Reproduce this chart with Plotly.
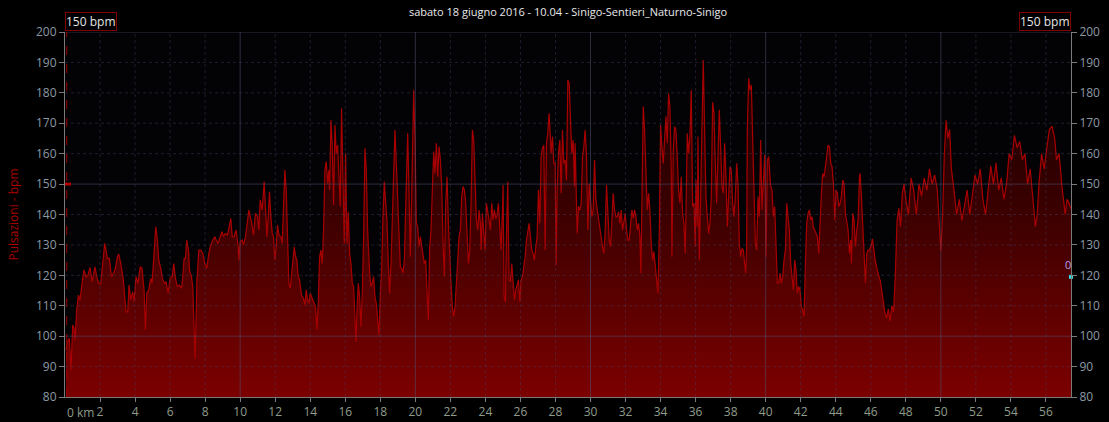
import plotly.graph_objects as go

# distance (km) and heart rate (bpm)
km = [0.057,0.133,0.248,0.343,0.438,0.514,0.571,0.667,0.762,0.857,0.971,1.086,1.200,1.314,1.429,1.543,1.619,1.714,1.810,1.924,
      2.038,2.152,2.267,2.343,2.419,2.533,2.648,2.762,2.876,2.990,3.067,3.181,3.295,3.371,3.486,3.581,3.657,3.752,3.867,3.943,
      4.057,4.171,4.286,4.400,4.514,4.590,4.667,4.781,4.895,4.971,5.086,5.181,5.276,5.352,5.467,5.581,5.695,5.771,5.886,
      6.000,6.114,6.210,6.305,6.419,6.533,6.648,6.724,6.800,6.876,6.952,7.048,7.105,7.219,7.295,7.371,7.429,7.524,7.638,7.752,
      7.867,7.981,8.095,8.210,8.324,8.438,8.552,8.629,8.743,8.857,8.971,9.048,9.162,9.276,9.390,9.467,9.543,9.657,9.771,9.886,
      9.924,10.000,10.114,10.190,10.305,10.419,10.495,10.571,10.648,10.762,10.876,10.990,11.067,11.143,11.257,11.371,
      11.448,11.524,11.600,11.676,11.752,11.829,11.905,11.981,12.057,12.133,12.210,12.324,12.400,12.476,12.552,12.629,12.705,
      12.781,12.857,12.933,13.010,13.086,13.162,13.238,13.314,13.390,13.505,13.619,13.695,13.771,13.848,13.924,14.000,14.076,
      14.152,14.229,14.305,14.381,14.457,14.533,14.610,14.686,14.762,14.838,14.914,14.990,15.067,15.105,15.181,15.257,15.333,
      15.410,15.486,15.562,15.638,15.714,15.790,15.867,15.943,16.019,16.095,16.171,16.248,16.324,16.400,16.476,16.552,16.610,
      16.667,16.743,16.819,16.895,16.971,17.048,17.124,17.200,17.276,17.352,
      17.390,17.467,17.543,17.619,17.695,17.771,17.848,17.924,18.000,18.076,18.152,18.229,18.305,18.381,18.457,18.533,18.610,
      18.686,18.762,18.838,18.914,18.990,19.067,19.143,19.219,19.295,19.371,19.448,19.524,19.562,19.638,19.714,19.790,19.867,
      19.905,19.981,20.057,20.133,20.210,20.286,20.362,20.438,20.514,20.590,20.667,20.743,20.819,20.895,20.971,21.048,21.124,
      21.200,21.276,21.352,21.429,21.505,21.581,21.657,21.733,21.810,21.886,21.962,22.038,22.114,22.190,22.267,22.343,22.419,
      22.495,22.571,22.648,22.724,22.800,22.876,22.952,23.029,23.105,
      23.181,23.257,23.333,23.410,23.486,23.562,23.638,23.714,23.752,23.829,23.905,23.981,24.057,24.133,24.210,24.286,24.362,
      24.438,24.514,24.590,24.667,24.743,24.819,24.895,24.971,25.010,25.067,25.143,25.200,25.276,25.352,25.429,25.505,25.581,
      25.657,25.733,25.810,25.886,25.962,26.038,26.114,26.190,26.267,26.343,26.419,26.495,26.571,26.648,26.724,26.800,26.876,
      26.952,27.029,27.105,27.181,27.257,27.333,27.410,27.486,27.562,27.638,27.676,27.752,27.829,27.905,27.981,28.038,28.095,
      28.171,28.248,28.324,28.400,28.476,28.552,28.629,28.705,28.781,28.857,
      28.933,29.010,29.086,29.124,29.200,29.238,29.314,29.390,29.467,29.543,29.619,29.695,29.771,29.848,29.924,30.000,30.076,
      30.152,30.229,30.305,30.381,30.457,30.533,30.610,30.686,30.762,30.838,30.914,30.990,31.067,31.143,31.219,31.295,31.371,
      31.448,31.524,31.600,31.676,31.752,31.829,31.905,31.981,32.057,32.133,32.210,32.286,32.362,32.438,32.514,32.590,32.667,
      32.743,32.819,32.876,32.933,33.010,33.086,33.162,33.238,33.314,33.390,33.467,33.543,33.619,33.695,33.771,33.848,33.924,
      34.000,34.076,34.152,34.229,34.305,34.381,34.457,34.533,
      34.610,34.648,34.724,34.800,34.876,34.952,35.029,35.105,35.181,35.257,35.333,35.410,35.486,35.524,35.600,35.676,35.752,
      35.829,35.905,35.981,36.019,36.095,36.133,36.210,36.286,36.362,36.438,36.514,36.590,36.667,36.743,36.819,36.895,36.971,
      37.048,37.124,37.200,37.276,37.352,37.429,37.505,37.581,37.657,37.733,37.810,37.886,37.962,38.038,38.114,38.190,38.267,
      38.343,38.419,38.495,38.571,38.648,38.724,38.800,38.857,38.914,38.952,39.029,39.105,39.181,39.257,39.333,39.410,39.486,
      39.562,39.638,39.714,39.790,39.867,39.943,40.019,40.095,40.171,40.248,
      40.286,40.362,40.438,40.514,40.590,40.667,40.743,40.819,40.895,40.971,41.048,41.124,41.200,41.276,41.352,41.429,41.505,
      41.581,41.657,41.733,41.810,41.886,41.962,42.038,42.114,42.190,42.267,42.343,42.419,42.495,42.571,42.648,42.724,42.800,
      42.876,42.952,43.029,43.105,43.181,43.257,43.333,43.410,43.486,43.562,43.638,43.714,43.790,43.867,43.943,44.019,44.095,
      44.171,44.248,44.324,44.400,44.476,44.552,44.629,44.705,44.781,44.857,44.895,44.971,45.048,45.124,45.200,45.276,45.352,
      45.390,45.467,45.543,45.619,45.695,45.771,45.848,45.924,46.000,
      46.1,46.25,46.4,46.55,46.7,46.8,46.9,47.0,47.1,47.2,47.3,47.4,47.5,47.6,47.7,47.8,47.9,48.0,48.15,48.3,48.45,48.6,48.75,
      48.9,49.05,49.2,49.35,49.5,49.65,49.8,49.9,50.0,50.1,50.2,50.3,50.4,50.5,50.6,50.75,50.9,51.05,51.2,51.35,51.5,51.65,
      51.8,51.95,52.1,52.25,52.4,52.55,52.7,52.85,53.0,53.15,53.3,53.45,53.6,53.75,53.9,54.05,54.2,54.35,54.5,54.65,54.8,
      54.95,55.1,55.25,55.4,55.5,55.6,55.75,55.9,56.05,56.2,56.35,56.5,56.6,56.75,56.9,57.0,57.1,57.2,57.3,57.43]

bpm = [95.4,98.2,99.3,88.9,103.7,102.6,98.7,108.6,113.5,111.9,117.4,121.8,119.6,120.1,122.6,117.9,120.1,122.8,119.6,117.4,
       117.2,123.9,130.5,128.3,125.6,125.6,119.6,120.7,122.3,126.1,127.0,123.9,120.1,115.7,108.0,108.0,116.8,111.9,114.6,111.3,
       119.6,117.4,122.8,122.3,115.2,102.1,114.1,115.2,119.0,117.4,126.1,136.0,131.6,125.0,122.3,118.5,117.4,117.9,114.1,
       119.0,119.6,123.9,119.0,116.3,116.8,115.7,119.6,125.6,125.6,131.6,128.3,121.8,119.6,116.3,102.1,92.7,117.4,128.3,128.3,
       127.2,123.9,122.3,127.2,130.0,131.6,132.7,131.6,130.5,132.7,134.4,132.7,133.8,133.3,136.0,138.7,132.7,132.7,134.9,129.4,
       125.0,131.1,131.6,130.0,132.7,137.1,141.5,139.3,137.6,133.3,140.4,139.3,134.9,144.8,141.5,150.8,
       143.7,132.7,139.3,147.5,139.3,133.8,132.7,125.0,129.4,136.5,133.3,132.7,130.5,141.5,154.6,148.1,130.5,
       117.4,115.7,120.1,123.9,129.4,126.1,125.0,119.6,118.5,113.5,112.4,110.2,115.2,111.9,110.8,114.1,113.0,
       111.9,111.3,109.7,102.1,110.8,126.1,128.3,123.9,134.9,154.6,157.4,150.2,154.6,148.1,171.1,162.3,143.1,
       169.4,160.1,162.8,152.4,142.6,174.9,145.9,130.5,160.1,130.5,140.9,127.2,123.9,117.4,116.3,106.4,98.2,
       108.6,117.4,113.0,103.1,114.1,132.7,161.8,154.6,134.9,122.8,
       120.7,116.3,117.4,119.6,113.0,110.8,106.4,100.4,114.1,121.8,139.3,150.8,143.7,138.2,123.9,114.1,123.9,
       141.5,156.8,167.8,156.8,145.9,130.5,122.8,122.3,120.7,125.0,141.5,159.0,166.7,148.1,126.1,145.9,167.8,
       180.9,164.5,137.1,136.0,129.4,132.7,129.4,126.1,123.9,125.0,114.1,105.3,129.4,134.9,148.1,160.7,153.5,
       163.4,152.4,162.3,157.9,149.1,130.5,119.6,143.7,152.4,137.1,123.9,117.4,109.7,106.4,109.7,116.3,123.9,
       132.7,134.9,145.9,149.2,148.1,143.7,134.9,123.9,128.3,
       143.7,167.8,164.5,151.3,138.2,134.9,141.5,137.1,128.3,140.4,134.9,128.3,143.7,141.5,138.2,134.9,143.7,
       138.2,141.5,138.7,139.8,143.7,134.9,128.3,141.5,149.7,113.0,111.3,132.7,150.8,118.5,117.9,123.9,117.4,
       111.9,115.2,117.4,118.5,111.3,118.5,119.6,122.8,126.1,131.6,134.9,137.1,132.7,128.3,127.2,125.0,129.4,
       132.7,148.1,137.1,159.0,161.8,162.8,128.3,163.4,166.7,173.3,168.9,160.1,165.6,156.8,156.8,123.4,148.1,
       160.1,164.5,147.0,167.8,156.8,157.9,151.3,184.2,183.1,171.1,
       160.1,164.5,149.2,163.4,141.5,133.8,142.6,141.5,143.7,159.0,162.3,167.8,159.0,134.9,150.2,143.7,139.3,
       141.5,157.9,144.8,141.5,139.3,136.0,132.7,129.4,127.2,134.9,149.7,138.2,131.6,129.4,139.3,147.0,141.5,
       139.3,139.3,140.9,137.1,141.5,134.9,137.1,140.4,134.9,131.6,131.6,137.1,141.5,138.7,141.5,139.3,134.9,
       137.1,132.7,120.7,150.2,175.5,167.8,156.8,141.5,147.0,141.5,130.5,125.0,127.8,123.9,119.6,114.1,132.7,
       169.4,162.3,156.8,164.5,172.2,163.4,179.8,175.5,
       154.6,126.1,161.2,168.9,167.8,159.0,148.1,143.7,152.4,140.4,137.1,127.2,150.2,166.7,160.1,165.6,180.9,
       142.6,143.7,129.4,151.3,136.0,165.6,125.0,145.9,167.8,190.8,167.8,145.9,139.3,133.8,137.1,145.9,176.9,
       173.3,156.8,143.7,159.0,174.4,162.3,149.2,147.0,163.4,152.4,136.0,145.9,155.7,154.6,143.7,139.3,145.9,
       156.8,150.2,130.5,126.1,128.9,128.3,123.9,120.7,129.4,167.8,184.8,180.9,182.6,167.8,149.2,130.5,128.3,
       145.9,139.3,164.5,141.5,150.2,159.6,126.1,157.9,159.0,150.2,
       149.2,148.1,139.3,142.6,129.4,117.4,117.4,120.7,117.4,119.6,125.0,128.3,143.7,138.2,134.9,123.9,119.6,
       115.2,125.0,121.8,114.1,116.3,115.2,109.7,108.6,106.4,123.9,137.1,140.4,141.5,138.2,139.3,135.5,134.9,
       133.8,132.7,127.2,138.2,147.0,153.5,152.4,155.7,159.6,162.8,162.3,156.8,155.7,150.2,138.2,148.1,147.0,
       142.6,143.7,145.9,151.3,150.2,140.4,138.2,134.9,127.2,131.6,123.9,140.4,138.2,129.4,134.9,138.2,152.4,
       153.5,145.9,134.9,123.9,117.4,127.2,128.3,128.3,129.4,
       132,125,121,118,112,108,106,109,105,110,108,120,138,142,136,147,150,145,140,152,148,140,150,
       146,152,148,155,150,153,148,138,128,140,160,171,165,168,155,148,140,145,138,143,148,140,
       146,153,150,155,145,140,148,156,150,157,148,152,145,150,160,158,166,162,164,158,160,
       150,155,145,136,140,150,160,155,162,168,169,165,158,160,150,145,140,145,144,142]

# second-series marker at the right edge, labelled "0"
marker_km = [57.43]
marker_val = [119.5]
marker_label = ["0"]

threshold = 150
y_ticks = list(range(80, 201, 10))
x_ticks = list(range(2, 57, 2))
x_labels = [str(v) for v in x_ticks]

XMAX = km[-1]
FONT = "Open Sans"

fig = go.Figure()

fig.add_trace(go.Scatter(
    x=km, y=bpm, mode="lines", fill="tozeroy",
    line=dict(color="#a80000", width=1.2),
    fillgradient=dict(type="vertical", start=80, stop=200,
                      colorscale=[[0, "rgb(124,0,0)"], [0.5, "rgb(60,0,0)"], [1, "rgb(12,0,0)"]]),
    hoverinfo="skip", showlegend=False))

fig.add_trace(go.Scatter(
    x=marker_km, y=marker_val, yaxis="y2", mode="markers",
    marker=dict(symbol="square", size=4, color="#33e0e0"),
    cliponaxis=False, hoverinfo="skip", showlegend=False))

shapes = []
grid_major = "rgba(80,80,115,0.55)"
grid_minor = "rgba(70,70,110,0.4)"
for v in range(2, int(XMAX) + 1, 2):
    if v % 10 == 0:
        shapes.append(dict(type="line", xref="x", yref="y", x0=v, x1=v, y0=80, y1=200,
                           line=dict(color=grid_major, width=1), layer="above"))
    else:
        shapes.append(dict(type="line", xref="x", yref="y", x0=v, x1=v, y0=80, y1=200,
                           line=dict(color=grid_minor, width=1, dash="dot"), layer="above"))
for v in range(90, 201, 10):
    if v % 50 == 0:
        shapes.append(dict(type="line", xref="x", yref="y", x0=0, x1=XMAX, y0=v, y1=v,
                           line=dict(color=grid_major, width=1), layer="above"))
    else:
        shapes.append(dict(type="line", xref="x", yref="y", x0=0, x1=XMAX, y0=v, y1=v,
                           line=dict(color=grid_minor, width=1, dash="dot"), layer="above"))

# cursor line
shapes.append(dict(type="line", xref="x", yref="y", x0=0.1, x1=0.1, y0=80, y1=200,
                   line=dict(color="#a00000", width=1, dash="dash"), layer="above"))
# threshold marker on left axis
shapes.append(dict(type="rect", xref="x", yref="y", xsizemode="pixel", ysizemode="pixel",
                   xanchor=0, yanchor=threshold, x0=0, x1=6, y0=-1.5, y1=1.5,
                   fillcolor="#b00000", line=dict(width=0), layer="above"))
# start triangle
shapes.append(dict(type="path", xref="x", yref="y", xsizemode="pixel", ysizemode="pixel",
                   xanchor=0, yanchor=80, path="M0,0 L11,-7 L0,-7 Z",
                   fillcolor="#c00000", line=dict(width=0), layer="above"))

annotations = [
    dict(text="150 bpm", xref="x", yref="paper", x=0, y=1, xanchor="left", yanchor="bottom",
         showarrow=False, font=dict(family=FONT, size=12, color="#e6e6e6"),
         bordercolor="#800000", borderwidth=1, borderpad=0, bgcolor="#000000", yshift=1),
    dict(text="150 bpm", xref="x", yref="paper", x=XMAX, y=1, xanchor="right", yanchor="bottom",
         showarrow=False, font=dict(family=FONT, size=12, color="#e6e6e6"),
         bordercolor="#800000", borderwidth=1, borderpad=0, bgcolor="#000000", yshift=1),
    dict(text="0 km", xref="x", yref="paper", x=0, y=0, xanchor="left", yanchor="top",
         showarrow=False, font=dict(family=FONT, size=12, color="#8f9c8a"), yshift=-5),
    dict(text=marker_label[0], xref="x", yref="y2", x=marker_km[0], y=marker_val[0],
         xanchor="right", yanchor="bottom", showarrow=False, yshift=3, xshift=2,
         font=dict(family=FONT, size=11, color="#b4a4f4")),
]

axis_common = dict(range=[80, 200], tickvals=y_ticks, ticks="outside", ticklen=5,
                   tickcolor="#7a7a7a", showline=True, linecolor="#7a7a7a", linewidth=1,
                   showgrid=False, zeroline=False, automargin=False,
                   tickfont=dict(family=FONT, size=12, color="#8c9aa6"))

fig.update_layout(
    width=1109, height=422,
    paper_bgcolor="#000000", plot_bgcolor="#030305",
    margin=dict(l=65, r=38, t=32, b=25, autoexpand=False),
    title=dict(text="sabato 18 giugno 2016 - 10.04 - Sinigo-Sentieri_Naturno-Sinigo",
               x=0.5, xref="paper", y=1 - 12 / 422, yref="container", yanchor="middle",
               font=dict(family=FONT, size=11, color="#e8e8e8"), automargin=False),
    xaxis=dict(range=[0, XMAX], tickvals=x_ticks, ticktext=x_labels, ticks="outside", ticklen=4,
               tickcolor="#7a7a7a", showline=True, linecolor="#7a7a7a", linewidth=1,
               showgrid=False, zeroline=False, automargin=False,
               tickfont=dict(family=FONT, size=12, color="#8f9c8a")),
    yaxis=dict(**axis_common,
               title=dict(text="Pulsazioni - bpm", standoff=14,
                          font=dict(family=FONT, size=12, color="#a80000"))),
    yaxis2=dict(**axis_common, overlaying="y", side="right", anchor="x"),
    shapes=shapes, annotations=annotations,
)

fig.write_html("out.html")
